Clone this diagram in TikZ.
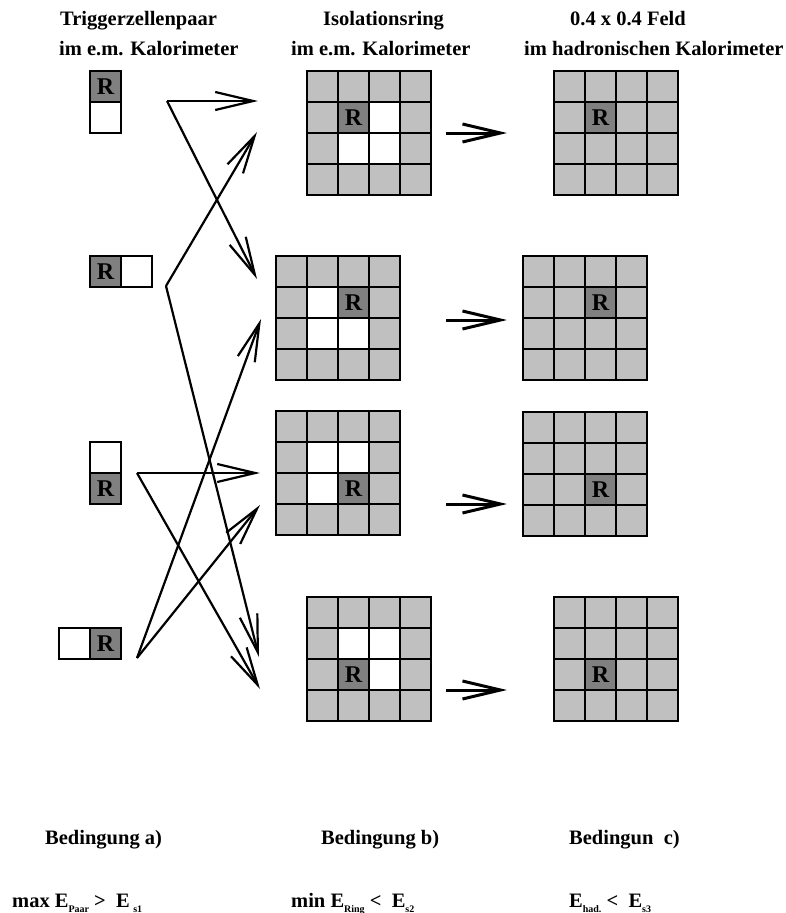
\documentclass[tikz,border=0pt]{standalone}
\usepackage{fontspec}
\setmainfont{Liberation Serif}
\usetikzlibrary{arrows.meta}
\definecolor{ltgray}{RGB}{192,192,192}
\definecolor{dkgray}{RGB}{128,128,128}
\newcommand{\idx}[1]{\raisebox{-5pt}{\fontsize{10}{10}\selectfont #1}}

\begin{document}
\begin{tikzpicture}[x=1pt,y=-1pt,
  cell/.style={draw,line width=2pt,fill=ltgray,minimum size=31pt,inner sep=0pt,outer sep=0pt,anchor=north west},
  rcell/.style={cell,fill=dkgray,font=\bfseries\fontsize{24}{24}\selectfont},
  wcell/.style={cell,fill=white},
  txt/.style={anchor=base west,inner sep=0pt,font=\bfseries\fontsize{20.5}{24}\selectfont},
  pfeil/.style={line width=2.2pt,-{Straight Barb[length=38pt,width=18pt]}}]
  \useasboundingbox (0,0) rectangle (786,913);

  \foreach \n/\x/\y in {g1/307/71,g2/276/256,g3/276/411,g4/307/597,h1/554/71,h2/523/256,h3/523/412,h4/554/597}
    \foreach \i in {0,...,3}
      \foreach \j in {0,...,3}
        \node[cell] (\n-\i\j) at (\x+31*\j,\y+31*\i) {};
  \foreach \c in {g1-12,g1-21,g1-22,g2-11,g2-21,g2-22,g3-11,g3-12,g3-21,g4-11,g4-12,g4-22}
    \node[wcell] (\c w) at (\c.north west) {};
  \foreach \c in {g1-11,g2-12,g3-22,g4-21,h1-11,h2-12,h3-22,h4-21}
    \node[rcell] (\c r) at (\c.north west) {R};

  \node[rcell] (p1r) at (90,71) {R};
  \node[wcell] (p1w) at (p1r.south west) {};
  \node[rcell] (p2r) at (90,256) {R};
  \node[wcell] (p2w) at (p2r.north east) {};
  \node[wcell] (p3w) at (90,442) {};
  \node[rcell] (p3r) at (p3w.south west) {R};
  \node[wcell] (p4w) at (59,628) {};
  \node[rcell] (p4r) at (p4w.north east) {R};

  \path (167,101) coordinate (s1) (166,286) coordinate (s2)
  (137,473) coordinate (s3) (137,658) coordinate (s4)
  (258,101) coordinate (e1a) (257,132) coordinate (e1b)
  (257,279) coordinate (e2a) (261,319) coordinate (e2b)
  (260,473) coordinate (e3a) (260,505) coordinate (e3b)
  (259,657) coordinate (e4a) (260,689) coordinate (e4b);
  \draw[pfeil] (s1) -- (e1a);
  \draw[pfeil] (s1) -- (e2a);
  \draw[pfeil] (s2) -- (e1b);
  \draw[pfeil] (s2) -- (e4a);
  \draw[pfeil] (s3) -- (e3a);
  \draw[pfeil] (s3) -- (e4b);
  \draw[pfeil] (s4) -- (e3b);
  \draw[pfeil] (s4) -- (e2b);

  \foreach \k/\y in {1/133,2/320,3/504,4/690} {
    \coordinate (m\k a) at (446,\y);
    \coordinate (m\k b) at (507,\y);
    \draw[pfeil,line width=3pt] (m\k a) -- (m\k b);
  }

  \node[txt] (t1a) at (60,25) {Triggerzellenpaar};
  \node[txt] (t1b) at (59,55) {im e.m. Kalorimeter};
  \node[txt] (t2a) at (323,25) {Isolationsring};
  \node[txt] (t2b) at (291,55) {im e.m. Kalorimeter};
  \node[txt] (t3a) at (570,25) {0.4 x 0.4 Feld};
  \node[txt] (t3b) at (524,55) {im hadronischen Kalorimeter};

  \node[txt] (b1) at (45,844) {Bedingung a)};
  \node[txt] (b2) at (321,844) {Bedingung b)};
  \node[txt] (b3) at (569,844) {Bedingun\ \ c)};
  \node[txt] (f1) at (12,907) {max E\idx{Paar} >\ \ E\,\idx{s1}};
  \node[txt] (f2) at (291,907) {min E\idx{Ring} <\ \ E\idx{s2}};
  \node[txt] (f3) at (569,907) {E\idx{had.} <\ \ E\idx{s3}};
\end{tikzpicture}
\end{document}
